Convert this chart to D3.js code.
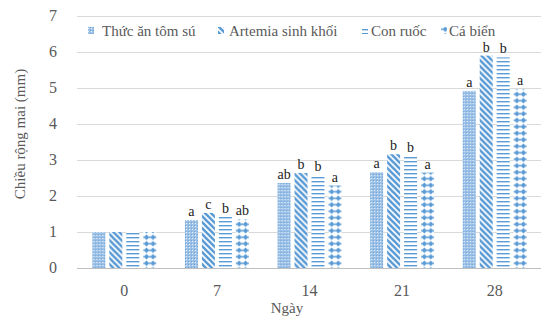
<!DOCTYPE html>
<html>
<head>
<meta charset="utf-8">
<script src="https://cdn.jsdelivr.net/npm/d3@7"></script>
<style>
  body { margin: 0; background: #fff; }
</style>
</head>
<body>
<div id="chart"></div>
<script>
// data
const days = ["0", "7", "14", "21", "28"];
const series = ["Thức ăn tôm sú", "Artemia sinh khối", "Con ruốc", "Cá biển"];
const thucAn = [1.0, 1.33, 2.36, 2.66, 4.92];
const artemia = [1.0, 1.53, 2.64, 3.16, 5.9];
const conRuoc = [1.0, 1.43, 2.58, 3.11, 5.85];
const caBien = [1.0, 1.35, 2.29, 2.65, 4.96];
const letters = [
  ["", "", "", ""],
  ["a", "c", "b", "ab"],
  ["ab", "b", "b", "a"],
  ["a", "b", "b", "a"],
  ["a", "b", "b", "a"]
];
const yTicks = [0, 1, 2, 3, 4, 5, 6, 7];

const values = [thucAn, artemia, conRuoc, caBien];
const width = 546, height = 322;
const blue = "#5b9bd5";
const serif = "'Liberation Serif', 'Times New Roman', Times, serif";

const svg = d3.select("#chart").append("svg")
  .attr("width", width)
  .attr("height", height)
  .attr("font-family", serif);

// patterns
const defs = svg.append("defs");
const p0 = defs.append("pattern").attr("id", "pat0")
  .attr("patternUnits", "userSpaceOnUse").attr("width", 3).attr("height", 3);
p0.append("rect").attr("width", 3).attr("height", 3).attr("fill", "#9dc1e6");
p0.append("rect").attr("x", 1).attr("y", 1).attr("width", 1).attr("height", 1).attr("fill", "#eaf2fa");
p0.append("rect").attr("x", 0).attr("y", 0).attr("width", 1).attr("height", 1).attr("fill", "#6aa4d8");

const p1 = defs.append("pattern").attr("id", "pat1")
  .attr("patternUnits", "userSpaceOnUse").attr("width", 6).attr("height", 6);
p1.append("rect").attr("width", 6).attr("height", 6).attr("fill", "#fff");
p1.append("path").attr("d", "M0,0L6,6M-3,3L3,9M3,-3L9,3")
  .attr("stroke", blue).attr("stroke-width", 2.6);

const p2 = defs.append("pattern").attr("id", "pat2")
  .attr("patternUnits", "userSpaceOnUse").attr("width", 6).attr("height", 4);
p2.append("rect").attr("width", 6).attr("height", 4).attr("fill", "#fff");
p2.append("rect").attr("y", 1).attr("width", 6).attr("height", 1.4).attr("fill", blue);

const p3 = defs.append("pattern").attr("id", "pat3")
  .attr("patternUnits", "userSpaceOnUse").attr("width", 6.5).attr("height", 6.5);
p3.append("rect").attr("width", 6.5).attr("height", 6.5).attr("fill", "#fff");
p3.append("path").attr("d", "M3.25,0.4L6,3.25L3.25,6.1L0.5,3.25Z").attr("fill", blue);
p3.append("path").attr("d", "M0,1.8L1,3.25L0,4.7ZM6.5,1.8L5.5,3.25L6.5,4.7Z").attr("fill", blue);

// scales
const x = d3.scaleBand().domain(days).range([78, 541])
  .paddingInner(0.31).paddingOuter(0.155);
const xi = d3.scaleBand().domain(d3.range(4)).range([0, x.bandwidth()])
  .paddingInner(0.235);
const y = d3.scaleLinear().domain([0, 7]).range([268, 16]);

// gridlines
svg.append("g").selectAll("line")
  .data(yTicks.slice(1))
  .join("line")
  .attr("x1", 77).attr("x2", 541)
  .attr("y1", d => Math.round(y(d)) + 0.5).attr("y2", d => Math.round(y(d)) + 0.5)
  .attr("stroke", "#d9d9d9");

// y tick labels
svg.append("g").selectAll("text")
  .data(yTicks)
  .join("text")
  .attr("x", 57).attr("y", d => y(d) + 5)
  .attr("text-anchor", "end")
  .attr("font-size", 16).attr("fill", "#595959")
  .text(d => d);

// bars
const bars = [];
days.forEach((d, di) => {
  values.forEach((s, si) => {
    bars.push({ day: d, si: si, v: s[di], lab: letters[di][si] });
  });
});

const bg = svg.append("g").selectAll("g")
  .data(bars)
  .join("g")
  .attr("transform", d => `translate(${x(d.day) + xi(d.si)},0)`);
bg.append("rect")
  .attr("x", 0)
  .attr("y", d => y(d.v))
  .attr("width", xi.bandwidth())
  .attr("height", d => y(0) - y(d.v))
  .attr("fill", d => `url(#pat${d.si})`);
bg.append("text")
  .attr("x", xi.bandwidth() / 2)
  .attr("y", d => y(d.v) - 4)
  .attr("text-anchor", "middle")
  .attr("font-size", 14).attr("fill", "#222")
  .text(d => d.lab);

// x axis line
svg.append("line")
  .attr("x1", 77).attr("x2", 541)
  .attr("y1", 268.5).attr("y2", 268.5)
  .attr("stroke", "#bfbfbf");

// x tick labels
svg.append("g").selectAll("text")
  .data(days)
  .join("text")
  .attr("x", d => x(d) + x.bandwidth() / 2)
  .attr("y", 296)
  .attr("text-anchor", "middle")
  .attr("font-size", 16).attr("fill", "#595959")
  .text(d => d);

// axis titles
svg.append("text")
  .attr("x", 287).attr("y", 313)
  .attr("text-anchor", "middle")
  .attr("font-size", 15).attr("fill", "#595959")
  .text("Ngày");
svg.append("text")
  .attr("transform", "translate(25,134) rotate(-90)")
  .attr("text-anchor", "middle")
  .attr("font-size", 15).attr("fill", "#595959")
  .text("Chiều rộng mai (mm)");

// legend
const legX = [88, 218, 362, 441];
const legT = [102, 229, 371, 449];
const leg = svg.append("g").selectAll("g")
  .data(series)
  .join("g");
leg.append("rect")
  .attr("x", (d, i) => legX[i]).attr("y", 27)
  .attr("width", 6).attr("height", 7)
  .attr("fill", (d, i) => `url(#pat${i})`);
leg.append("text")
  .attr("x", (d, i) => legT[i]).attr("y", 35.5)
  .attr("font-size", 15).attr("fill", "#595959")
  .text(d => d);
</script>
</body>
</html>
